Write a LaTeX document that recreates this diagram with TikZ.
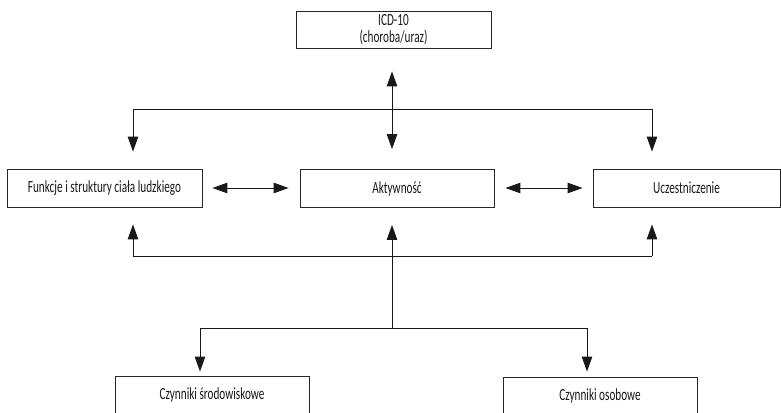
\documentclass[tikz,border=0pt]{standalone}
\usepackage{fontspec}
\setmainfont[FakeStretch=0.66]{Carlito}
\usetikzlibrary{arrows.meta,calc}
\tikzset{
  box/.style={draw=black!85, line width=0.9pt, minimum width=195pt, minimum height=38pt, inner sep=0pt, font=\fontsize{17}{19}\selectfont, text=black!90, align=center},
  conn/.style={draw=black!90, line width=1pt},
  arr/.style={conn, -{Triangle[length=15pt,width=10.5pt]}},
  darr/.style={conn, {Triangle[length=15pt,width=10.5pt]}-{Triangle[length=15pt,width=10.5pt]}}
}
\begin{document}
\begin{tikzpicture}[x=1pt,y=-1pt]
\clip (0,0) rectangle (781,412);
\fill[white] (0,0) rectangle (781,412);
\node[box, minimum height=37pt] (icd) at (393.5,29.5) {ICD-10\\[-2pt](choroba/uraz)};
\node[box] (fun) at (104.5,188) {Funkcje i struktury ciała ludzkiego};
\node[box, minimum width=194pt] (akt) at (397,188.5) {Aktywność};
\node[box, minimum width=187pt] (ucz) at (686.5,188) {Uczestniczenie};
\node[box, minimum width=194pt] (srod) at (212,395) {Czynniki środowiskowe};
\node[box, minimum width=194pt] (osob) at (600,396) {Czynniki osobowe};
% top distribution
\coordinate (tl) at (133,109);
\coordinate (tc) at (392,109);
\coordinate (tr) at (652,109);
\draw[darr, shorten <=23pt, shorten >=20pt] (icd.south -| tc) -- (akt.north -| tc);
\draw[conn] (tl) -- (tr);
\draw[arr, shorten >=17pt] (tl) -- (tl |- fun.north);
\draw[arr, shorten >=17pt] (tr) -- (tr |- ucz.north);
% horizontal links
\draw[darr, shorten <=10pt, shorten >=11pt] (fun.east) -- (akt.west |- fun.east);
\draw[darr, shorten <=11pt, shorten >=10pt] (akt.east |- ucz.west) -- (ucz.west);
% bottom distribution
\coordinate (bl) at (133,256);
\coordinate (bc) at (392,256);
\coordinate (br) at (652,256);
\coordinate (cc) at (392,328);
\coordinate (cl) at (200,328);
\coordinate (cr) at (587,328);
\draw[conn] (bl) -- (br);
\draw[arr, shorten >=17pt] (bl) -- (bl |- fun.south);
\draw[arr, shorten >=17pt] (br) -- (br |- ucz.south);
\draw[arr, shorten >=17pt] (cc) -- (cc |- akt.south);
\draw[conn] (cl) -- (cr);
\draw[arr, shorten >=4pt] (cl) -- (cl |- srod.north);
\draw[arr, shorten >=5pt] (cr) -- (cr |- osob.north);
\end{tikzpicture}
\end{document}
